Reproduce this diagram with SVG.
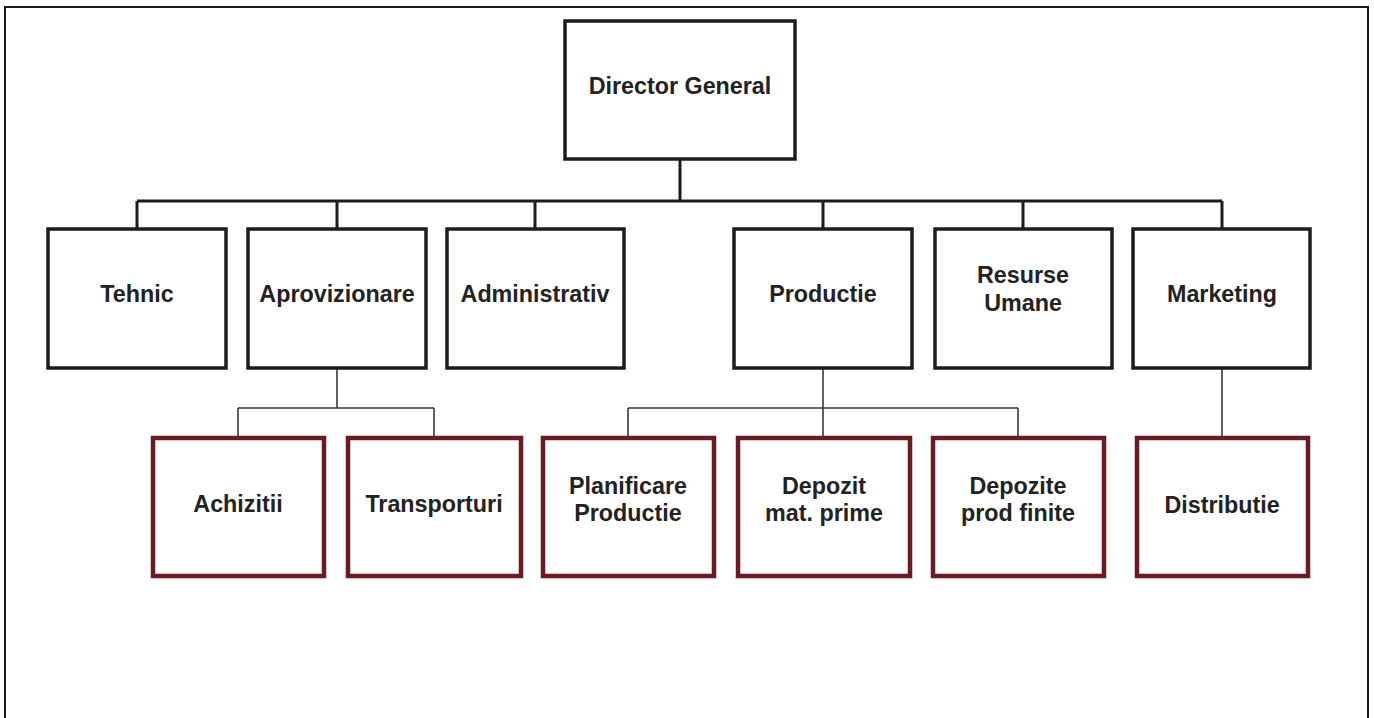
<svg xmlns="http://www.w3.org/2000/svg" width="1374" height="718" viewBox="0 0 1374 718">
<style>
.bg{fill:#ffffff}
.frame{fill:none;stroke:#1a1a1a;stroke-width:2}
.box{fill:#ffffff;stroke:#1c1c1c;stroke-width:3.5}
.sub{fill:#ffffff;stroke:#6a1b22;stroke-width:4.5}
.bus{fill:none;stroke:#1c1c1c;stroke-width:3}
.thin{fill:none;stroke:#3a3a3a;stroke-width:1.6}
text{font-family:"Liberation Sans",Arial,sans-serif;font-weight:bold;font-size:23.3px;fill:#222222;text-anchor:middle}
</style>
<rect class="bg" x="0" y="0" width="1374" height="718"/>
<rect class="frame" x="5" y="7" width="1363" height="730"/>
<g id="connectors">
<path class="bus" d="M680,159 V201 M137,201 H1222 M137,201 V229 M337,201 V229 M535,201 V229 M823,201 V229 M1023,201 V229 M1222,201 V229"/>
<path class="thin" d="M337,368 V408 M238,408 H434 M238,408 V438 M434,408 V438"/>
<path class="thin" d="M823,368 V438 M628,408 H1018 M628,408 V438 M1018,408 V438"/>
<path class="thin" d="M1222,368 V438"/>
</g>
<g id="director"><rect class="box" x="565" y="21" width="230" height="138"/><text x="680" y="94">Director General</text></g>
<g id="tehnic"><rect class="box" x="48" y="229" width="178" height="139"/><text x="137" y="302">Tehnic</text></g>
<g id="aprovizionare"><rect class="box" x="248" y="229" width="178" height="139"/><text x="337" y="302">Aprovizionare</text></g>
<g id="administrativ"><rect class="box" x="447" y="229" width="177" height="139"/><text x="535" y="302">Administrativ</text></g>
<g id="productie"><rect class="box" x="734" y="229" width="178" height="139"/><text x="823" y="302">Productie</text></g>
<g id="resurse"><rect class="box" x="935" y="229" width="177" height="139"/><text x="1023" y="283">Resurse</text><text x="1023" y="311">Umane</text></g>
<g id="marketing"><rect class="box" x="1133" y="229" width="177" height="139"/><text x="1222" y="302">Marketing</text></g>
<g id="achizitii"><rect class="sub" x="153" y="438" width="171" height="138"/><text x="238" y="512">Achizitii</text></g>
<g id="transporturi"><rect class="sub" x="348" y="438" width="173" height="138"/><text x="434" y="512">Transporturi</text></g>
<g id="planificare"><rect class="sub" x="543" y="438" width="171" height="138"/><text x="628" y="494">Planificare</text><text x="628" y="521">Productie</text></g>
<g id="depozit"><rect class="sub" x="738" y="438" width="172" height="138"/><text x="824" y="494">Depozit</text><text x="824" y="521">mat. prime</text></g>
<g id="depozite"><rect class="sub" x="933" y="438" width="171" height="138"/><text x="1018" y="494">Depozite</text><text x="1018" y="521">prod finite</text></g>
<g id="distributie"><rect class="sub" x="1137" y="438" width="171" height="138"/><text x="1222" y="513">Distributie</text></g>
</svg>
